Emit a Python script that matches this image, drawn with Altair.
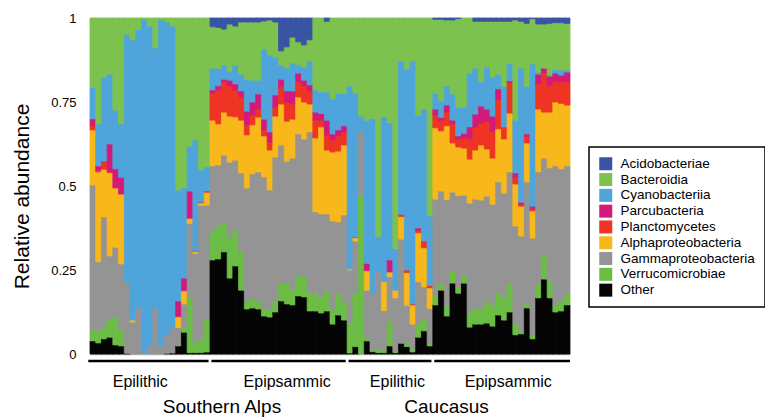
import altair as alt
import pandas as pd

# Category order from bottom of each stacked bar to top
categories = ["Other", "Verrucomicrobiae", "Gammaproteobacteria", "Alphaproteobacteria",
              "Planctomycetes", "Parcubacteria", "Cyanobacteriia", "Bacteroidia", "Acidobacteriae"]
legend_order = ["Acidobacteriae", "Bacteroidia", "Cyanobacteriia", "Parcubacteria", "Planctomycetes",
                "Alphaproteobacteria", "Gammaproteobacteria", "Verrucomicrobiae", "Other"]
colors = {"Acidobacteriae": "#3A54A4", "Bacteroidia": "#7DC24F", "Cyanobacteriia": "#4FA5DB",
          "Parcubacteria": "#D31A7B", "Planctomycetes": "#EE3524", "Alphaproteobacteria": "#F8B81B",
          "Gammaproteobacteria": "#949494", "Verrucomicrobiae": "#6CBD45", "Other": "#050505"}

# Cumulative upper boundaries per sample: Other, Verruco, Gamma, Alpha, Plancto, Parcu, Cyano, Bacteroidia
# (Acidobacteriae fills the rest up to 1)
alps_epilithic = [
    [0.039, 0.071, 0.503, 0.667, 0.680, 0.700, 0.794, 1.0],
    [0.033, 0.069, 0.275, 0.542, 0.547, 0.560, 0.685, 1.0],
    [0.045, 0.083, 0.408, 0.550, 0.572, 0.574, 0.824, 1.0],
    [0.050, 0.103, 0.292, 0.540, 0.543, 0.625, 0.833, 1.0],
    [0.027, 0.109, 0.318, 0.494, 0.496, 0.551, 0.726, 1.0],
    [0.024, 0.071, 0.268, 0.476, 0.476, 0.526, 0.685, 1.0],
    [0.002, 0.002, 0.214, 0.214, 0.214, 0.214, 0.952, 1.0],
    [0.000, 0.000, 0.095, 0.101, 0.101, 0.101, 0.935, 1.0],
    [0.000, 0.000, 0.139, 0.139, 0.139, 0.139, 0.966, 1.0],
    [0.000, 0.000, 0.004, 0.004, 0.004, 0.004, 0.996, 1.0],
    [0.000, 0.000, 0.024, 0.024, 0.024, 0.024, 0.976, 1.0],
    [0.000, 0.000, 0.137, 0.137, 0.137, 0.137, 0.911, 1.0],
    [0.000, 0.000, 0.024, 0.024, 0.024, 0.024, 0.994, 1.0],
    [0.002, 0.002, 0.056, 0.056, 0.056, 0.056, 0.988, 1.0],
    [0.003, 0.003, 0.078, 0.078, 0.078, 0.078, 0.976, 1.0],
    [0.024, 0.027, 0.079, 0.111, 0.111, 0.158, 0.488, 1.0],
    [0.065, 0.079, 0.149, 0.188, 0.188, 0.226, 0.495, 1.0],
    [0.004, 0.169, 0.389, 0.404, 0.404, 0.485, 0.619, 1.0],
    [0.004, 0.034, 0.299, 0.306, 0.306, 0.308, 0.637, 1.0],
    [0.004, 0.044, 0.442, 0.450, 0.451, 0.452, 0.548, 1.0],
    [0.006, 0.103, 0.443, 0.482, 0.483, 0.485, 0.557, 1.0],
]
alps_epipsammic = [
    [0.280, 0.364, 0.560, 0.696, 0.776, 0.786, 0.851, 0.974],
    [0.283, 0.381, 0.563, 0.685, 0.786, 0.798, 0.849, 0.972],
    [0.304, 0.389, 0.592, 0.720, 0.810, 0.818, 0.860, 0.967],
    [0.226, 0.346, 0.571, 0.708, 0.798, 0.815, 0.842, 0.982],
    [0.262, 0.369, 0.577, 0.706, 0.786, 0.804, 0.860, 0.976],
    [0.190, 0.304, 0.539, 0.696, 0.766, 0.783, 0.833, 0.988],
    [0.134, 0.158, 0.494, 0.652, 0.682, 0.723, 0.818, 0.988],
    [0.137, 0.164, 0.536, 0.682, 0.711, 0.750, 0.815, 0.988],
    [0.134, 0.158, 0.542, 0.705, 0.729, 0.774, 0.815, 0.988],
    [0.113, 0.134, 0.527, 0.649, 0.667, 0.699, 0.908, 0.991],
    [0.110, 0.134, 0.488, 0.607, 0.631, 0.661, 0.890, 0.994],
    [0.125, 0.158, 0.586, 0.708, 0.735, 0.771, 0.884, 0.988],
    [0.158, 0.211, 0.622, 0.744, 0.795, 0.818, 0.860, 0.902],
    [0.149, 0.211, 0.574, 0.693, 0.750, 0.783, 0.851, 0.914],
    [0.146, 0.193, 0.583, 0.699, 0.744, 0.783, 0.866, 0.943],
    [0.173, 0.232, 0.655, 0.765, 0.810, 0.836, 0.860, 0.929],
    [0.170, 0.232, 0.640, 0.750, 0.798, 0.815, 0.854, 0.920],
    [0.128, 0.182, 0.661, 0.744, 0.783, 0.801, 0.872, 0.935],
    [0.128, 0.182, 0.423, 0.643, 0.696, 0.720, 0.786, 1.0],
    [0.122, 0.170, 0.417, 0.676, 0.696, 0.716, 0.780, 1.0],
    [0.128, 0.188, 0.417, 0.607, 0.652, 0.696, 0.780, 0.990],
    [0.089, 0.134, 0.396, 0.601, 0.637, 0.655, 0.759, 1.0],
    [0.116, 0.179, 0.393, 0.604, 0.649, 0.667, 0.776, 1.0],
    [0.101, 0.155, 0.414, 0.622, 0.661, 0.679, 0.776, 1.0],
]
caucasus_epilithic = [
    [0.003, 0.091, 0.250, 0.253, 0.253, 0.253, 0.798, 1.0],
    [0.022, 0.181, 0.336, 0.346, 0.348, 0.348, 0.776, 1.0],
    [0.000, 0.473, 0.662, 0.662, 0.662, 0.662, 0.708, 1.0],
    [0.039, 0.048, 0.190, 0.248, 0.248, 0.270, 0.696, 1.0],
    [0.007, 0.012, 0.181, 0.181, 0.181, 0.181, 0.701, 1.0],
    [0.004, 0.012, 0.244, 0.244, 0.244, 0.244, 0.349, 1.0],
    [0.004, 0.012, 0.129, 0.215, 0.215, 0.215, 0.706, 1.0],
    [0.024, 0.096, 0.230, 0.244, 0.244, 0.280, 0.688, 1.0],
    [0.004, 0.007, 0.167, 0.190, 0.190, 0.190, 0.313, 1.0],
    [0.032, 0.032, 0.342, 0.409, 0.416, 0.416, 0.872, 1.0],
    [0.022, 0.032, 0.145, 0.242, 0.250, 0.250, 0.848, 1.0],
    [0.006, 0.014, 0.089, 0.146, 0.149, 0.149, 0.872, 1.0],
    [0.050, 0.089, 0.215, 0.361, 0.369, 0.375, 0.711, 1.0],
    [0.069, 0.103, 0.200, 0.316, 0.336, 0.336, 0.729, 1.0],
    [0.024, 0.032, 0.135, 0.197, 0.204, 0.204, 0.411, 1.0],
]
caucasus_epipsammic = [
    [0.146, 0.173, 0.461, 0.673, 0.711, 0.729, 0.776, 0.996],
    [0.190, 0.211, 0.485, 0.664, 0.694, 0.704, 0.754, 0.996],
    [0.113, 0.143, 0.459, 0.679, 0.720, 0.741, 0.798, 0.994],
    [0.211, 0.246, 0.482, 0.628, 0.685, 0.696, 0.774, 0.994],
    [0.181, 0.198, 0.471, 0.616, 0.640, 0.649, 0.734, 0.998],
    [0.211, 0.235, 0.473, 0.613, 0.643, 0.657, 0.734, 1.0],
    [0.080, 0.121, 0.449, 0.580, 0.640, 0.676, 0.835, 1.0],
    [0.089, 0.137, 0.461, 0.607, 0.675, 0.714, 0.851, 0.990],
    [0.089, 0.134, 0.458, 0.622, 0.686, 0.738, 0.810, 0.990],
    [0.092, 0.155, 0.470, 0.610, 0.692, 0.729, 0.854, 0.990],
    [0.083, 0.146, 0.446, 0.583, 0.662, 0.708, 0.824, 0.990],
    [0.116, 0.182, 0.512, 0.670, 0.758, 0.789, 0.833, 0.990],
    [0.101, 0.170, 0.479, 0.640, 0.676, 0.676, 0.796, 0.990],
    [0.125, 0.211, 0.542, 0.717, 0.808, 0.813, 0.865, 0.990],
    [0.057, 0.092, 0.381, 0.506, 0.527, 0.539, 0.696, 0.994],
    [0.060, 0.068, 0.351, 0.440, 0.446, 0.452, 0.851, 0.990],
    [0.137, 0.149, 0.512, 0.628, 0.649, 0.655, 0.796, 0.984],
    [0.045, 0.057, 0.345, 0.426, 0.432, 0.440, 0.863, 0.998],
    [0.167, 0.208, 0.542, 0.729, 0.804, 0.833, 0.839, 0.982],
    [0.223, 0.292, 0.583, 0.720, 0.836, 0.851, 0.851, 0.982],
    [0.167, 0.215, 0.554, 0.720, 0.798, 0.827, 0.832, 0.984],
    [0.125, 0.146, 0.560, 0.750, 0.810, 0.836, 0.847, 0.986],
    [0.128, 0.158, 0.551, 0.746, 0.810, 0.830, 0.845, 0.986],
    [0.146, 0.179, 0.560, 0.741, 0.810, 0.839, 0.845, 0.984],
]

group_labels = ["Epilithic", "Epipsammic", "Epilithic", "Epipsammic"]
group_label_pos = [8.8, 34.5, 53.8, 73.2]
region_labels = ["Southern Alps", "Caucasus"]
region_label_pos = [23.1, 62.4]
y_ticks = [0, 0.25, 0.5, 0.75, 1]

FONT = "Liberation Sans, Arial, Helvetica, sans-serif"

# Build rectangle table (each bar slightly overlaps the next one to hide anti-aliasing seams)
groups = [alps_epilithic, alps_epipsammic, caucasus_epilithic, caucasus_epipsammic]
n_samples = sum(len(g) for g in groups)
rows = []
idx = 0
bounds = []
for g in groups:
    start = idx
    for sample in g:
        tops = list(sample) + [1.0]
        prev = 0.0
        for cat, top in zip(categories, tops):
            if top > prev + 1e-9:
                rows.append({"i": idx, "i2": min(idx + 1.15, n_samples),
                             "y0": prev, "y1": top, "taxon": cat})
            prev = max(prev, top)
        idx += 1
    bounds.append((start, idx))
df = pd.DataFrame(rows)

xscale = alt.Scale(domain=[0, n_samples], nice=False, zero=False)
color_scale = alt.Scale(domain=legend_order, range=[colors[c] for c in legend_order])

bars = alt.Chart(df).mark_rect(strokeWidth=0.8, opacity=1, strokeOpacity=1).encode(
    x=alt.X("i:Q", scale=xscale,
            axis=alt.Axis(labels=False, ticks=False, grid=False, title=None,
                          domainColor="#BBBBBB", domainWidth=1.5)),
    x2="i2:Q",
    y=alt.Y("y0:Q", scale=alt.Scale(domain=[0, 1], nice=False),
            axis=alt.Axis(values=y_ticks, labelExpr="'' + datum.value", ticks=False, domain=False,
                          grid=False, labelPadding=14, labelFontSize=13, labelFont=FONT,
                          labelColor="#000000",
                          title="Relative abundance", titleFontSize=21, titleFont=FONT,
                          titleFontWeight="normal", titleColor="#000000",
                          titleX=-68, titleY=178, titleBaseline="middle", titleAlign="center")),
    y2="y1:Q",
    color=alt.Color("taxon:N", scale=color_scale, sort=legend_order,
                    legend=alt.Legend(title=None)),
    stroke=alt.Stroke("taxon:N", scale=color_scale, legend=None),
)

line_df = pd.DataFrame({
    "s": [b[0] + (0.25 if k > 0 else -0.3) for k, b in enumerate(bounds)],
    "e": [b[1] - (0.25 if k < len(bounds) - 1 else 0) for k, b in enumerate(bounds)],
})
underlines = alt.Chart(line_df).mark_rule(strokeWidth=2.5, color="#000000").encode(
    x=alt.X("s:Q", scale=xscale), x2="e:Q", y=alt.value(343)
)

glabel_df = pd.DataFrame({"label": group_labels, "pos": group_label_pos})
glabels = alt.Chart(glabel_df).mark_text(fontSize=16, font=FONT, baseline="alphabetic",
                                         align="center", color="#000000").encode(
    x=alt.X("pos:Q", scale=xscale), y=alt.value(369), text="label:N"
)

rlabel_df = pd.DataFrame({"label": region_labels, "pos": region_label_pos})
rlabels = alt.Chart(rlabel_df).mark_text(fontSize=19, font=FONT, baseline="alphabetic",
                                         align="center", color="#000000").encode(
    x=alt.X("pos:Q", scale=xscale), y=alt.value(395), text="label:N"
)

chart = alt.layer(bars, underlines, glabels, rlabels).properties(
    width=480, height=336,
    autosize=alt.AutoSizeParams(type="none"),
    padding={"left": 90, "top": 18, "right": 195, "bottom": 63},
).configure_view(stroke=None).configure_legend(
    orient="none", legendX=499, legendY=129, padding=10,
    strokeColor="#000000", strokeWidth=1.5,
    symbolType="square", symbolSize=169, symbolStrokeWidth=0, symbolOpacity=1,
    labelFontSize=13.5, labelFont=FONT, labelColor="#000000", labelOffset=8, rowPadding=0.8,
)

chart.save("out.html", embed_options={"renderer": "svg", "actions": False})
